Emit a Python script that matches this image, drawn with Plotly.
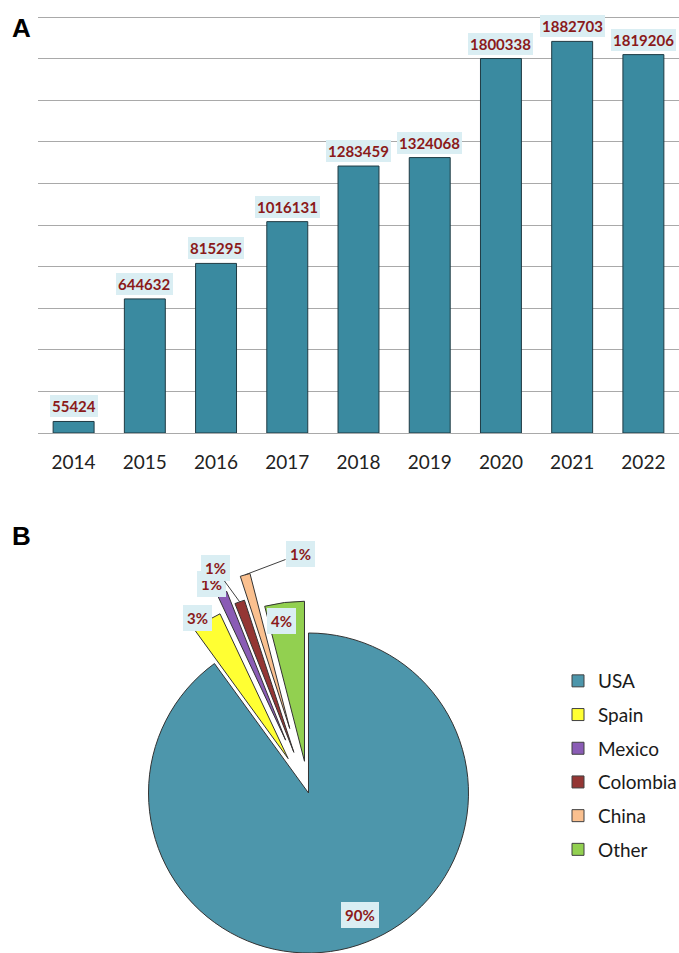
import math
import plotly.graph_objects as go

# ---------------- data ----------------
years = ["2014", "2015", "2016", "2017", "2018", "2019", "2020", "2021", "2022"]
counts = [55424, 644632, 815295, 1016131, 1283459, 1324068, 1800338, 1882703, 1819206]

countries = ["USA", "Spain", "Mexico", "Colombia", "China", "Other"]
shares = [90, 3, 1, 1, 1, 4]

# ---------------- styles / layout constants ----------------
W, H = 679, 953
BAR_COLOR = "#3a8aa0"
BAR_LINE = "#1f3a43"
GRID = "#a9a9a9"
LABEL_RED = "#8b1a1a"
LABEL_BG = "#daeef3"
FONT = "Lato"
pie_colors = ["#4d96ab", "#ffff33", "#8a5cb5", "#943634", "#fac08f", "#92d050"]
pie_pulls = [0, 0.25, 0.36, 0.27, 0.42, 0.2]
# pie centre / radius in pixels
CX, CY, R = 308.5, 793.0, 160.0
# label box centres (pixels) for each slice
label_px = [(360, 915), (197, 618), (211, 584), (215, 568), (300, 554), (281, 621)]
label_leader = [False, True, True, True, True, False]
# y axis top (pixels) for value 2,000,000 and baseline
Y_TOP_PX, Y_BASE_PX = 17.0, 433.0
Y_MAX = 2000000
Y_PAD = 10000  # tiny headroom so the top grid line is drawn


def px(x):
    return x / W


def py(y):
    return 1 - y / H


fig = go.Figure()

# ---------------- panel A: bars ----------------
fig.add_trace(go.Bar(
    x=years, y=counts,
    marker=dict(color=BAR_COLOR, line=dict(color=BAR_LINE, width=1)),
    hoverinfo="skip", showlegend=False,
))

annotations = []
for idx, v in enumerate(counts):
    annotations.append(dict(
        x=idx, y=v, xref="x", yref="y", text=f"<b>{v}</b>", showarrow=False,
        yanchor="bottom", yshift=4, bgcolor=LABEL_BG, borderpad=2, borderwidth=0,
        font=dict(family=FONT, size=15, color=LABEL_RED),
    ))

# ---------------- panel B: exploded pie ----------------
total = float(sum(shares))
cum = 0.0
n = len(countries)
for i, (c, s) in enumerate(zip(countries, shares)):
    a0 = cum / total * 360.0
    cum += s
    a1 = cum / total * 360.0
    mid = math.radians((a0 + a1) / 2)
    dx, dy = math.sin(mid), -math.cos(mid)
    vx = CX + pie_pulls[i] * R * dx
    vy = CY + pie_pulls[i] * R * dy
    cols = [pie_colors[j] if j == i else "rgba(0,0,0,0)" for j in range(n)]
    lcols = ["#333333" if j == i else "rgba(0,0,0,0)" for j in range(n)]
    y0 = max(0.0, round(py(vy + R), 6))
    y1 = min(1.0, round(py(vy - R), 6))
    fig.add_trace(go.Pie(
        values=shares, labels=countries, sort=False, direction="clockwise", rotation=0,
        marker=dict(colors=cols, line=dict(color=lcols, width=1)),
        textinfo="none", hoverinfo="skip", showlegend=False,
        domain=dict(x=[round(px(vx - R), 6), round(px(vx + R), 6)], y=[y0, y1]),
    ))
    lx, ly = label_px[i]
    txt = f"<b>{s}%</b>"
    if label_leader[i]:
        tx = vx + R * dx
        ty = vy + R * dy
        annotations.append(dict(
            x=px(tx), y=py(ty), xref="paper", yref="paper", text=txt,
            showarrow=True, arrowhead=0, arrowwidth=1, arrowcolor="#404040",
            ax=lx - tx, ay=ly - ty, bgcolor=LABEL_BG, borderpad=4, borderwidth=0,
            font=dict(family=FONT, size=15, color=LABEL_RED),
        ))
    else:
        annotations.append(dict(
            x=px(lx), y=py(ly), xref="paper", yref="paper", text=txt, showarrow=False,
            xanchor="center", yanchor="middle", bgcolor=LABEL_BG, borderpad=4, borderwidth=0,
            font=dict(family=FONT, size=15, color=LABEL_RED),
        ))

# legend entries
for c, col in zip(countries, pie_colors):
    fig.add_trace(go.Scatter(
        x=[None], y=[None], mode="markers", name=c, legendgroup=c,
        marker=dict(symbol="square", size=12, color=col, line=dict(color="#404040", width=1)),
        hoverinfo="skip",
    ))

# panel letters
for letter, (lx, ly) in zip(["A", "B"], [(21, 28), (21, 536)]):
    annotations.append(dict(
        x=px(lx), y=py(ly), xref="paper", yref="paper", text=f"<b>{letter}</b>",
        showarrow=False, xanchor="center", yanchor="middle",
        font=dict(family="Liberation Sans, Arial", size=26, color="#000000"),
    ))

pad_px = Y_PAD / Y_MAX * (Y_BASE_PX - Y_TOP_PX)

fig.update_layout(
    width=W, height=H,
    margin=dict(l=0, r=0, t=0, b=0, autoexpand=False),
    paper_bgcolor="white", plot_bgcolor="white",
    font=dict(family=FONT, color="#1a1a1a"),
    bargap=0.425,
    xaxis=dict(type="category", domain=[38 / W, 1], range=[-0.5, len(years) - 0.5],
               showgrid=False, ticks="", showline=False,
               tickfont=dict(family=FONT, size=19, color="#222222"),
               ticklabelstandoff=16, fixedrange=True),
    yaxis=dict(domain=[py(Y_BASE_PX), py(Y_TOP_PX - pad_px)], range=[0, Y_MAX + Y_PAD],
               tick0=0, dtick=200000,
               showticklabels=False, showgrid=True, gridcolor=GRID, gridwidth=1.3,
               zeroline=True, zerolinecolor=GRID, zerolinewidth=1.3, fixedrange=True),
    showlegend=True,
    legend=dict(x=px(558), y=py(662), xanchor="left", yanchor="top",
                font=dict(family=FONT, size=19, color="#1a1a1a"),
                tracegroupgap=6, bgcolor="rgba(0,0,0,0)"),
    annotations=annotations,
)

fig.write_html(
    "out.html",
    config={"displayModeBar": False},
    post_script="document.documentElement.style.margin='0';document.body.style.margin='0';"
                "document.body.style.overflow='hidden';",
)
